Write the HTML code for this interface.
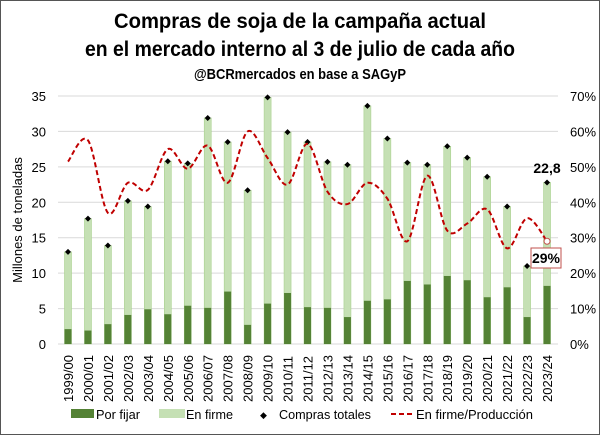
<!DOCTYPE html>
<html><head><meta charset="utf-8"><style>
html,body{margin:0;padding:0;background:#fff}
svg{display:block;font-family:"Liberation Sans",sans-serif}
</style></head><body>
<svg id="s" width="600" height="435" viewBox="0 0 600 435" xmlns="http://www.w3.org/2000/svg">
<rect x="0.5" y="0.5" width="599" height="434" fill="#fff" stroke="#555"/>
<text x="300" y="28" text-anchor="middle" font-size="21" font-weight="bold" fill="#000" textLength="372" lengthAdjust="spacingAndGlyphs">Compras de soja de la campaña actual</text>
<text x="300" y="56" text-anchor="middle" font-size="21" font-weight="bold" fill="#000" textLength="430" lengthAdjust="spacingAndGlyphs">en el mercado interno al 3 de julio de cada año</text>
<text x="300" y="79" text-anchor="middle" font-size="15" font-weight="bold" fill="#000" textLength="212" lengthAdjust="spacingAndGlyphs">@BCRmercados en base a SAGyP</text>
<g id="g"></g>
<text transform="translate(22,220) rotate(-90)" text-anchor="middle" font-size="13" fill="#000">Millones de toneladas</text>
<g font-size="13" fill="#000">
<rect x="71" y="409" width="23" height="9" fill="#548235"/><text x="96" y="419" textLength="44" lengthAdjust="spacingAndGlyphs">Por fijar</text>
<rect x="159" y="409" width="26" height="9" fill="#c5e0b4"/><text x="186" y="419" textLength="47" lengthAdjust="spacingAndGlyphs">En firme</text>
<text x="260" y="418" font-size="9">◆</text><text x="279" y="419" textLength="92" lengthAdjust="spacingAndGlyphs">Compras totales</text>
<line x1="391" y1="414" x2="412" y2="414" stroke="#c00000" stroke-width="2" stroke-dasharray="5,3"/><text x="416" y="419" textLength="117" lengthAdjust="spacingAndGlyphs">En firme/Producción</text>
</g>
</svg>
<script>
var tot=[13.0,17.7,13.9,20.2,19.4,25.8,25.5,31.9,28.5,21.7,34.8,29.9,28.5,25.7,25.3,33.6,29.0,25.6,25.3,27.9,26.3,23.6,19.4,11.0,22.8];
var fix=[2.1,1.9,2.8,4.1,4.9,4.2,5.4,5.1,7.4,2.7,5.7,7.2,5.2,5.1,3.8,6.1,6.3,8.9,8.4,9.6,9.0,6.6,8.0,3.8,8.2];
var pct=[51.5,57.5,37,45.5,43.5,55,49.5,56,45.5,60,52.5,45,56.5,43,39.5,45.5,41,29,47.5,32,34,38,27,35.5,29];
var labs=["1999/00","2000/01","2001/02","2002/03","2003/04","2004/05","2005/06","2006/07","2007/08","2008/09","2009/10","2010/11","2011/12","2012/13","2013/14","2014/15","2015/16","2016/17","2017/18","2018/19","2019/20","2020/21","2021/22","2022/23","2023/24"];
var y0=344,k=248/35,L=58,R=558;
function Y(v){return y0-v*k}
var h='';
for(var i=0;i<=7;i++){var y=Y(i*5);
 h+='<line x1="'+L+'" x2="'+R+'" y1="'+y+'" y2="'+y+'" stroke="#d9d9d9"/>';
 h+='<text x="46" y="'+(y+5)+'" text-anchor="end" font-size="13">'+(i*5)+'</text>';
 h+='<text x="570" y="'+(y+5)+'" font-size="13">'+(i*10)+'%</text>';}
var pts=[];
for(var i=0;i<25;i++){var x=68+i*19.96;
 h+='<rect x="'+(x-3.5)+'" y="'+Y(tot[i])+'" width="7" height="'+(tot[i]*k)+'" fill="#c5e0b4" stroke="#a9d18e" stroke-width="0.6"/>';
 h+='<rect x="'+(x-3.5)+'" y="'+Y(fix[i])+'" width="7" height="'+(fix[i]*k)+'" fill="#548235"/>';
 h+='<path d="M'+x+' '+(Y(tot[i])-3)+'l3 3l-3 3l-3 -3z" fill="#000"/>';
 h+='<text transform="translate('+(x+5)+',402) rotate(-90)" font-size="13">'+labs[i]+'</text>';
 pts.push([x,Y(pct[i]/2)]);}
var d='M'+pts[0][0]+' '+pts[0][1];
for(var i=0;i<24;i++){var p0=pts[Math.max(i-1,0)],p1=pts[i],p2=pts[i+1],p3=pts[Math.min(i+2,24)];
 d+=' C'+(p1[0]+(p2[0]-p0[0])/6)+' '+(p1[1]+(p2[1]-p0[1])/6)+' '+(p2[0]-(p3[0]-p1[0])/6)+' '+(p2[1]-(p3[1]-p1[1])/6)+' '+p2[0]+' '+p2[1];}
h+='<path d="'+d+'" fill="none" stroke="#c00000" stroke-width="2" stroke-dasharray="5,3"/>';
var lx=pts[24][0],ly=pts[24][1];
h+='<circle cx="'+lx+'" cy="'+ly+'" r="3" fill="#fff" stroke="#c0504d"/>';
h+='<rect x="531" y="248" width="30" height="20" fill="#fff" stroke="#c0504d"/><text x="546" y="263" text-anchor="middle" font-size="14" font-weight="bold">29%</text>';
h+='<text x="547" y="173" text-anchor="middle" font-size="14" font-weight="bold">22,8</text>';
document.getElementById('g').innerHTML=h;
</script>
</body></html>
